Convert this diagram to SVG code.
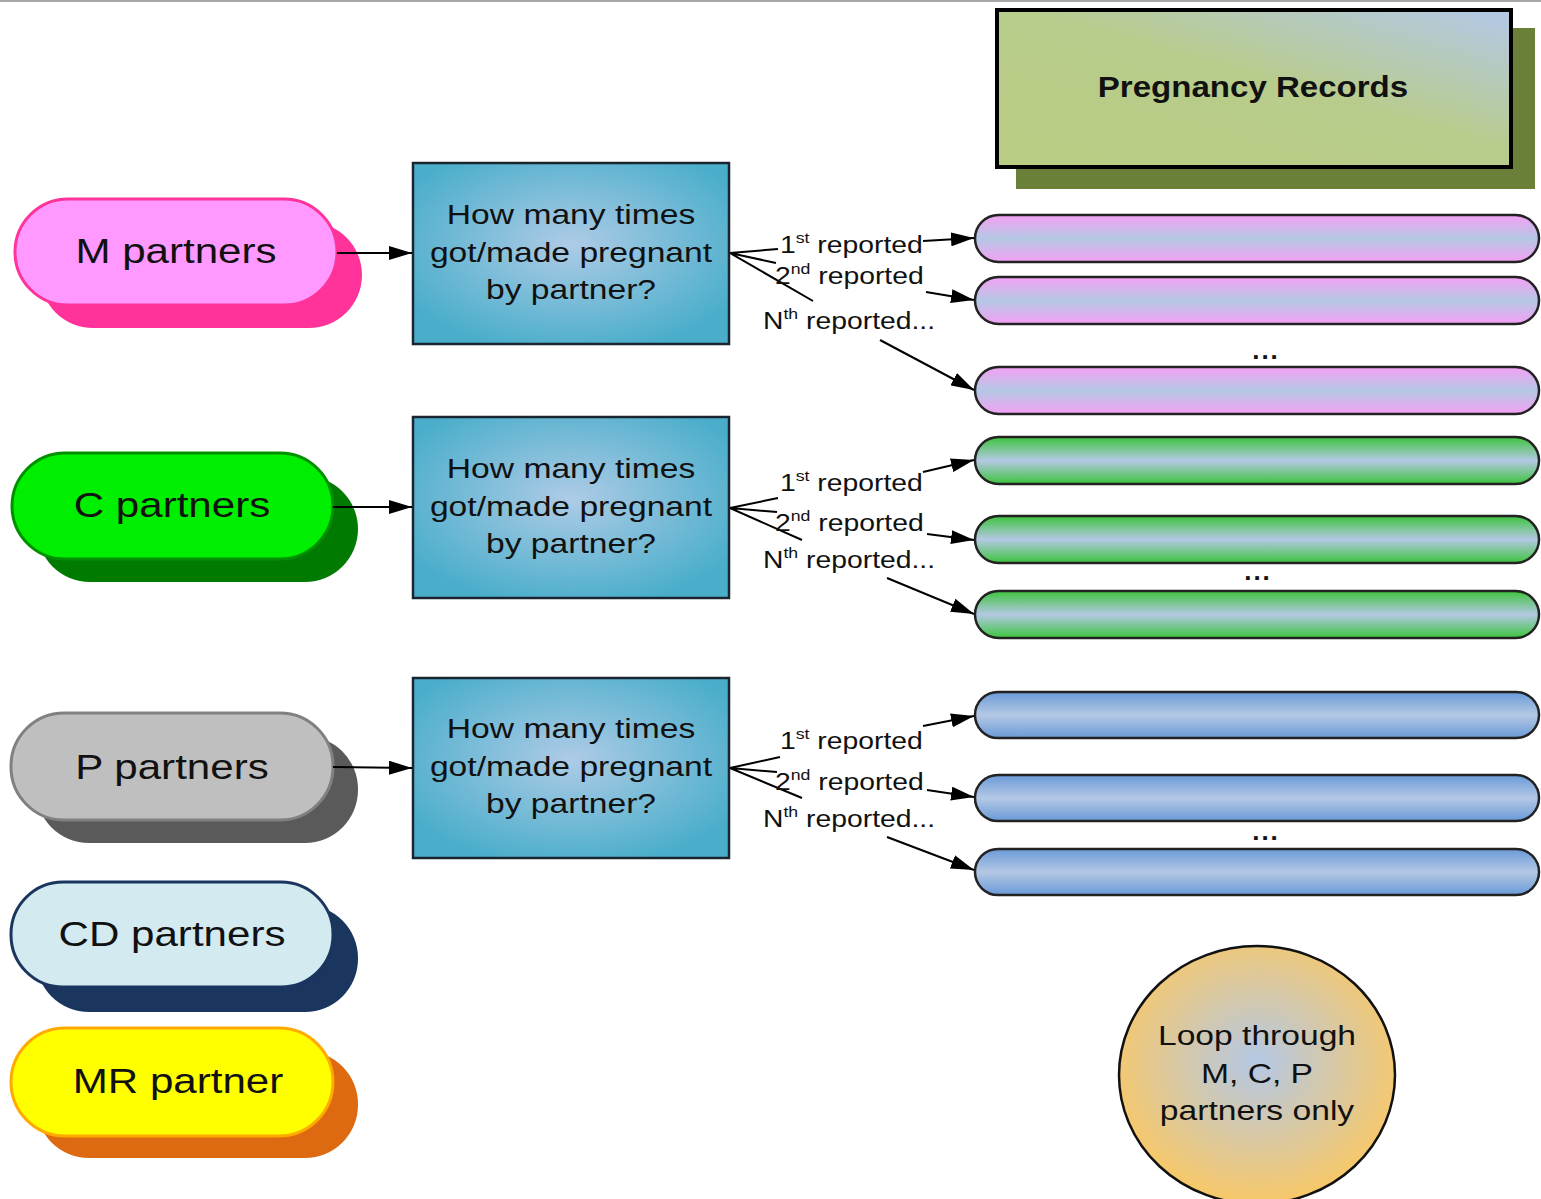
<svg xmlns="http://www.w3.org/2000/svg" width="1541" height="1199" viewBox="0 0 1541 1199">
<defs>
<style>
text{font-family:"Liberation Sans",Arial,sans-serif;fill:#111}
.pl{font-size:36px}
.q{font-size:28.5px}
.lb{font-size:24px}
.sup{font-size:15px}
.conn{stroke:#000;stroke-width:2;fill:none}
.qbox{fill:url(#qg);stroke:#1a2530;stroke-width:2.5}
.rec{stroke:#222;stroke-width:2.5}
.dots{font-size:26px;font-weight:bold;letter-spacing:2px}
</style>
<radialGradient id="qg" cx="50%" cy="45%" r="60%">
<stop offset="0" stop-color="#aecbe6"/>
<stop offset="1" stop-color="#4aaecb"/>
</radialGradient>
<linearGradient id="pg" x1="0.1" y1="0.9" x2="0.95" y2="0">
<stop offset="0" stop-color="#b9cc84"/>
<stop offset="0.5" stop-color="#b8cc8c"/>
<stop offset="1" stop-color="#b4c8e4"/>
</linearGradient>
<linearGradient id="pk" x1="0" y1="0" x2="0" y2="1">
<stop offset="0" stop-color="#f4a0f4"/>
<stop offset="0.5" stop-color="#b4c8e4"/>
<stop offset="1" stop-color="#f4a0f4"/>
</linearGradient>
<linearGradient id="gr" x1="0" y1="0" x2="0" y2="1">
<stop offset="0" stop-color="#3cc43c"/>
<stop offset="0.5" stop-color="#b4c8e4"/>
<stop offset="1" stop-color="#3cc43c"/>
</linearGradient>
<linearGradient id="bl" x1="0" y1="0" x2="0" y2="1">
<stop offset="0" stop-color="#6a9ad8"/>
<stop offset="0.5" stop-color="#b4c8e4"/>
<stop offset="1" stop-color="#6a9ad8"/>
</linearGradient>
<radialGradient id="cg" cx="50%" cy="45%" r="55%">
<stop offset="0" stop-color="#b4c8e6"/>
<stop offset="1" stop-color="#f8c868"/>
</radialGradient>
<marker id="ah" viewBox="0 0 23 14" refX="23" refY="7" markerWidth="23" markerHeight="14" markerUnits="userSpaceOnUse" orient="auto">
<path d="M0,0 L23,7 L0,14 Z" fill="#000"/>
</marker>
</defs>
<rect x="0" y="0" width="1541" height="1199" fill="#fff"/>
<line x1="0" y1="1" x2="1541" y2="1" stroke="#a8a8a8" stroke-width="2"/>

<g id="pregnancy-records">
<rect x="1016" y="28" width="519" height="161" fill="#6a8038"/>
<rect x="997" y="10" width="514" height="157" fill="url(#pg)" stroke="#000" stroke-width="4"/>
<g transform="translate(1253,97) scale(1.14,1)"><text text-anchor="middle" font-size="29" font-weight="bold">Pregnancy Records</text></g>
</g>

<g id="m-partners">
<rect x="40" y="222" width="322" height="106" rx="53" fill="#ff3399"/>
<rect x="15" y="199" width="322" height="106" rx="53" fill="#ff99ff" stroke="#ff3399" stroke-width="3"/>
<g transform="translate(176,263) scale(1.17,1)"><text class="pl" text-anchor="middle">M partners</text></g>
</g>
<g id="c-partners">
<rect x="37" y="476" width="321" height="106" rx="53" fill="#007a00"/>
<rect x="12" y="453" width="321" height="106" rx="53" fill="#00ee00" stroke="#009000" stroke-width="3"/>
<g transform="translate(172,517) scale(1.17,1)"><text class="pl" text-anchor="middle">C partners</text></g>
</g>
<g id="p-partners">
<rect x="36" y="736" width="322" height="107" rx="53" fill="#5a5a5a"/>
<rect x="11" y="713" width="322" height="107" rx="53" fill="#bfbfbf" stroke="#808080" stroke-width="3"/>
<g transform="translate(172,779) scale(1.17,1)"><text class="pl" text-anchor="middle">P partners</text></g>
</g>
<g id="cd-partners">
<rect x="36" y="905" width="322" height="107" rx="53" fill="#1a365e"/>
<rect x="11" y="882" width="322" height="105" rx="52" fill="#d2eaf0" stroke="#1a365e" stroke-width="3"/>
<g transform="translate(172,946) scale(1.17,1)"><text class="pl" text-anchor="middle">CD partners</text></g>
</g>
<g id="mr-partner">
<rect x="36" y="1051" width="322" height="107" rx="53" fill="#dd6a10"/>
<rect x="11" y="1028" width="322" height="108" rx="54" fill="#ffff00" stroke="#ffaa00" stroke-width="3"/>
<g transform="translate(178,1093) scale(1.17,1)"><text class="pl" text-anchor="middle">MR partner</text></g>
</g>

<g id="q-m">
<rect class="qbox" x="413" y="163" width="316" height="181"/>
<g transform="translate(571,0) scale(1.18,1)"><text class="q" text-anchor="middle"><tspan x="0" y="224">How many times</tspan><tspan x="0" y="262">got/made pregnant</tspan><tspan x="0" y="299">by partner?</tspan></text></g>
</g>
<g id="q-c">
<rect class="qbox" x="413" y="417" width="316" height="181"/>
<g transform="translate(571,0) scale(1.18,1)"><text class="q" text-anchor="middle"><tspan x="0" y="478">How many times</tspan><tspan x="0" y="516">got/made pregnant</tspan><tspan x="0" y="553">by partner?</tspan></text></g>
</g>
<g id="q-p">
<rect class="qbox" x="413" y="678" width="316" height="180"/>
<g transform="translate(571,0) scale(1.18,1)"><text class="q" text-anchor="middle"><tspan x="0" y="738">How many times</tspan><tspan x="0" y="776">got/made pregnant</tspan><tspan x="0" y="813">by partner?</tspan></text></g>
</g>

<g id="m-records">
<rect class="rec" x="975" y="215" width="564" height="47" rx="23.5" fill="url(#pk)"/>
<rect class="rec" x="975" y="277" width="564" height="47" rx="23.5" fill="url(#pk)"/>
<rect class="rec" x="975" y="367" width="564" height="47" rx="23.5" fill="url(#pk)"/>
<text class="dots" x="1266" y="359" text-anchor="middle">...</text>
</g>
<g id="c-records">
<rect class="rec" x="975" y="437" width="564" height="47" rx="23.5" fill="url(#gr)"/>
<rect class="rec" x="975" y="516" width="564" height="47" rx="23.5" fill="url(#gr)"/>
<rect class="rec" x="975" y="591" width="564" height="47" rx="23.5" fill="url(#gr)"/>
<text class="dots" x="1258" y="580" text-anchor="middle">...</text>
</g>
<g id="p-records">
<rect class="rec" x="975" y="692" width="564" height="46" rx="23" fill="url(#bl)"/>
<rect class="rec" x="975" y="775" width="564" height="46" rx="23" fill="url(#bl)"/>
<rect class="rec" x="975" y="849" width="564" height="46" rx="23" fill="url(#bl)"/>
<text class="dots" x="1266" y="840" text-anchor="middle">...</text>
</g>

<g id="loop-note">
<ellipse cx="1257" cy="1075" rx="138" ry="129" fill="url(#cg)" stroke="#111" stroke-width="2.5"/>
<g transform="translate(1257,0) scale(1.18,1)"><text class="q" text-anchor="middle"><tspan x="0" y="1045">Loop through</tspan><tspan x="0" y="1083">M, C, P</tspan><tspan x="0" y="1120">partners only</tspan></text></g>
</g>

<g id="connectors">
<line class="conn" x1="337" y1="253" x2="412" y2="253" marker-end="url(#ah)"/>
<line class="conn" x1="333" y1="507" x2="412" y2="507" marker-end="url(#ah)"/>
<line class="conn" x1="333" y1="767" x2="412" y2="768" marker-end="url(#ah)"/>

<path class="conn" d="M730,253 L778,249 M730,253 L776,263 M730,253 L813,301"/>
<line class="conn" x1="923" y1="241" x2="974" y2="238" marker-end="url(#ah)"/>
<line class="conn" x1="926" y1="292" x2="974" y2="300" marker-end="url(#ah)"/>
<line class="conn" x1="880" y1="340" x2="974" y2="390" marker-end="url(#ah)"/>

<path class="conn" d="M730,508 L778,498 M730,508 L777,512 M730,508 L802,540"/>
<line class="conn" x1="923" y1="472" x2="974" y2="460" marker-end="url(#ah)"/>
<line class="conn" x1="927" y1="534" x2="974" y2="540" marker-end="url(#ah)"/>
<line class="conn" x1="887" y1="578" x2="974" y2="614" marker-end="url(#ah)"/>

<path class="conn" d="M730,768 L780,757 M730,768 L777,772 M730,768 L802,798"/>
<line class="conn" x1="923" y1="726" x2="974" y2="716" marker-end="url(#ah)"/>
<line class="conn" x1="927" y1="790" x2="974" y2="797" marker-end="url(#ah)"/>
<line class="conn" x1="887" y1="837" x2="974" y2="870" marker-end="url(#ah)"/>
</g>

<g id="labels">
<g transform="translate(780,253) scale(1.18,1)"><text class="lb">1<tspan class="sup" dy="-10">st</tspan><tspan dy="10"> reported</tspan></text></g>
<g transform="translate(775,284) scale(1.18,1)"><text class="lb">2<tspan class="sup" dy="-10">nd</tspan><tspan dy="10"> reported</tspan></text></g>
<g transform="translate(763,329) scale(1.18,1)"><text class="lb">N<tspan class="sup" dy="-10">th</tspan><tspan dy="10"> reported...</tspan></text></g>

<g transform="translate(780,491) scale(1.18,1)"><text class="lb">1<tspan class="sup" dy="-10">st</tspan><tspan dy="10"> reported</tspan></text></g>
<g transform="translate(775,531) scale(1.18,1)"><text class="lb">2<tspan class="sup" dy="-10">nd</tspan><tspan dy="10"> reported</tspan></text></g>
<g transform="translate(763,568) scale(1.18,1)"><text class="lb">N<tspan class="sup" dy="-10">th</tspan><tspan dy="10"> reported...</tspan></text></g>

<g transform="translate(780,749) scale(1.18,1)"><text class="lb">1<tspan class="sup" dy="-10">st</tspan><tspan dy="10"> reported</tspan></text></g>
<g transform="translate(775,790) scale(1.18,1)"><text class="lb">2<tspan class="sup" dy="-10">nd</tspan><tspan dy="10"> reported</tspan></text></g>
<g transform="translate(763,827) scale(1.18,1)"><text class="lb">N<tspan class="sup" dy="-10">th</tspan><tspan dy="10"> reported...</tspan></text></g>
</g>
</svg>
